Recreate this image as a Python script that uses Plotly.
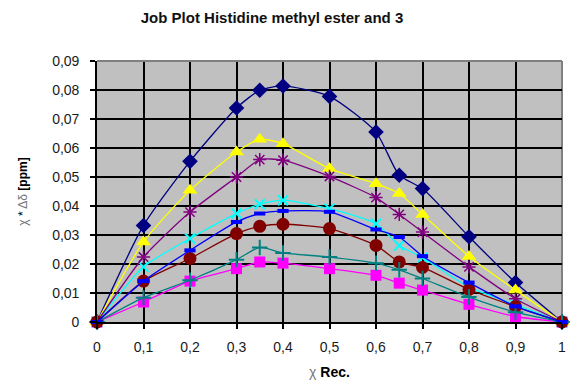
import plotly.graph_objects as go

# Mole fraction of receptor
x_rec = [0, 0.1, 0.2, 0.3, 0.35, 0.4, 0.5, 0.6, 0.65, 0.7, 0.8, 0.9, 1]

# chi * delta-delta values [ppm] for each observed proton signal
s_navy = [0, 0.0333, 0.0554, 0.0738, 0.0799, 0.0814, 0.0778, 0.0655, 0.0506, 0.0460, 0.0294, 0.0136, 0]
s_magenta = [0, 0.0069, 0.0141, 0.0184, 0.0207, 0.0203, 0.0184, 0.0161, 0.0134, 0.0110, 0.0061, 0.0019, 0]
s_yellow = [0, 0.0276, 0.0454, 0.0586, 0.0630, 0.0615, 0.0529, 0.0477, 0.0443, 0.0371, 0.0226, 0.0110, 0]
s_cyan = [0, 0.0190, 0.0288, 0.0374, 0.0406, 0.0420, 0.0391, 0.0339, 0.0264, 0.0222, 0.0120, 0.0060, 0]
s_purple = [0, 0.0224, 0.0379, 0.0500, 0.0560, 0.0558, 0.0502, 0.0429, 0.0371, 0.0310, 0.0190, 0.0080, 0]
s_darkred = [0, 0.0141, 0.0219, 0.0305, 0.0330, 0.0337, 0.0322, 0.0264, 0.0207, 0.0188, 0.0112, 0.0053, 0]
s_teal = [0, 0.0084, 0.0144, 0.0215, 0.0257, 0.0238, 0.0224, 0.0203, 0.0180, 0.0150, 0.0086, 0.0034, 0]
s_blue = [0, 0.0141, 0.0247, 0.0345, 0.0374, 0.0383, 0.0380, 0.0319, 0.0293, 0.0227, 0.0136, 0.0054, 0]

x_ticks = [0, 0.1, 0.2, 0.3, 0.4, 0.5, 0.6, 0.7, 0.8, 0.9, 1]
x_ticktext = ["0", "0,1", "0,2", "0,3", "0,4", "0,5", "0,6", "0,7", "0,8", "0,9", "1"]
y_ticks = [0, 0.01, 0.02, 0.03, 0.04, 0.05, 0.06, 0.07, 0.08, 0.09]
y_ticktext = ["0", "0,01", "0,02", "0,03", "0,04", "0,05", "0,06", "0,07", "0,08", "0,09"]

series = [
    (s_navy, "#000080", dict(symbol="diamond", size=12, color="#000080")),
    (s_magenta, "#FF00FF", dict(symbol="square", size=11, color="#FF00FF")),
    (s_yellow, "#FFFF00", dict(symbol="triangle-up", size=13, color="#FFFF00")),
    (s_cyan, "#00FFFF", dict(symbol="x-thin", size=10, color="#00FFFF",
                             line=dict(color="#00FFFF", width=2))),
    (s_purple, "#800080", dict(symbol="asterisk", size=11, color="#800080",
                               line=dict(color="#800080", width=1.5))),
    (s_darkred, "#800000", dict(symbol="circle", size=13, color="#800000")),
    (s_teal, "#008080", dict(symbol="cross-thin", size=11, color="#008080",
                             line=dict(color="#008080", width=2))),
    (s_blue, "#0000FF", dict(symbol="line-ew", size=8, color="#0000FF",
                             line=dict(color="#0000FF", width=4))),
]

fig = go.Figure()
for ys, col, mk in series:
    fig.add_trace(go.Scatter(
        x=x_rec, y=ys, mode="lines+markers",
        line=dict(color=col, width=1.3, shape="spline", smoothing=0.6),
        marker=mk, cliponaxis=False, showlegend=False,
    ))

font_family = "Liberation Sans, Arial, sans-serif"
tick_font = dict(family=font_family, size=14, color="#1a1a1a")

fig.update_layout(
    width=574, height=387,
    margin=dict(l=97, r=8, t=61, b=65),
    paper_bgcolor="white",
    plot_bgcolor="#C0C0C0",
    font=dict(family=font_family, size=13, color="#000000"),
    title=dict(
        text="<b>Job Plot Histidine methyl ester and 3</b>",
        x=272 / 574, xanchor="center", y=1 - 18 / 387, yanchor="middle",
        font=dict(size=15, color="#111111"),
    ),
    xaxis=dict(
        range=[0, 1], tickvals=x_ticks, ticktext=x_ticktext,
        showgrid=True, gridcolor="#000000", gridwidth=1.6,
        showline=True, linecolor="#000000", linewidth=1.6,
        ticks="outside", ticklen=5, tickcolor="#000000", tickwidth=1.6,
        tickfont=tick_font, ticklabelstandoff=6,
        zeroline=False, mirror=False,
        title=dict(
            text="<span style='color:#777'>χ</span> <b>Rec.</b>",
            font=dict(size=14), standoff=14,
        ),
    ),
    yaxis=dict(
        range=[0, 0.09], tickvals=y_ticks, ticktext=y_ticktext,
        showgrid=True, gridcolor="#000000", gridwidth=1.6,
        showline=True, linecolor="#000000", linewidth=1.6,
        ticks="outside", ticklen=5, tickcolor="#000000", tickwidth=1.6,
        tickfont=tick_font, ticklabelstandoff=8,
        zeroline=False,
        title=dict(
            text="<span style='color:#777'>χ</span> * <span style='color:#777'>Δδ</span> <b>[ppm]</b>",
            font=dict(size=12), standoff=22,
        ),
    ),
)

# plot-area frame along the top and right edges
fig.add_shape(type="line", xref="paper", yref="paper", x0=0, x1=1, y0=1, y1=1,
              line=dict(color="#808080", width=2), layer="above")
fig.add_shape(type="line", xref="paper", yref="paper", x0=1, x1=1, y0=0, y1=1,
              line=dict(color="#808080", width=2), layer="below")

fig.write_html("out.html")
